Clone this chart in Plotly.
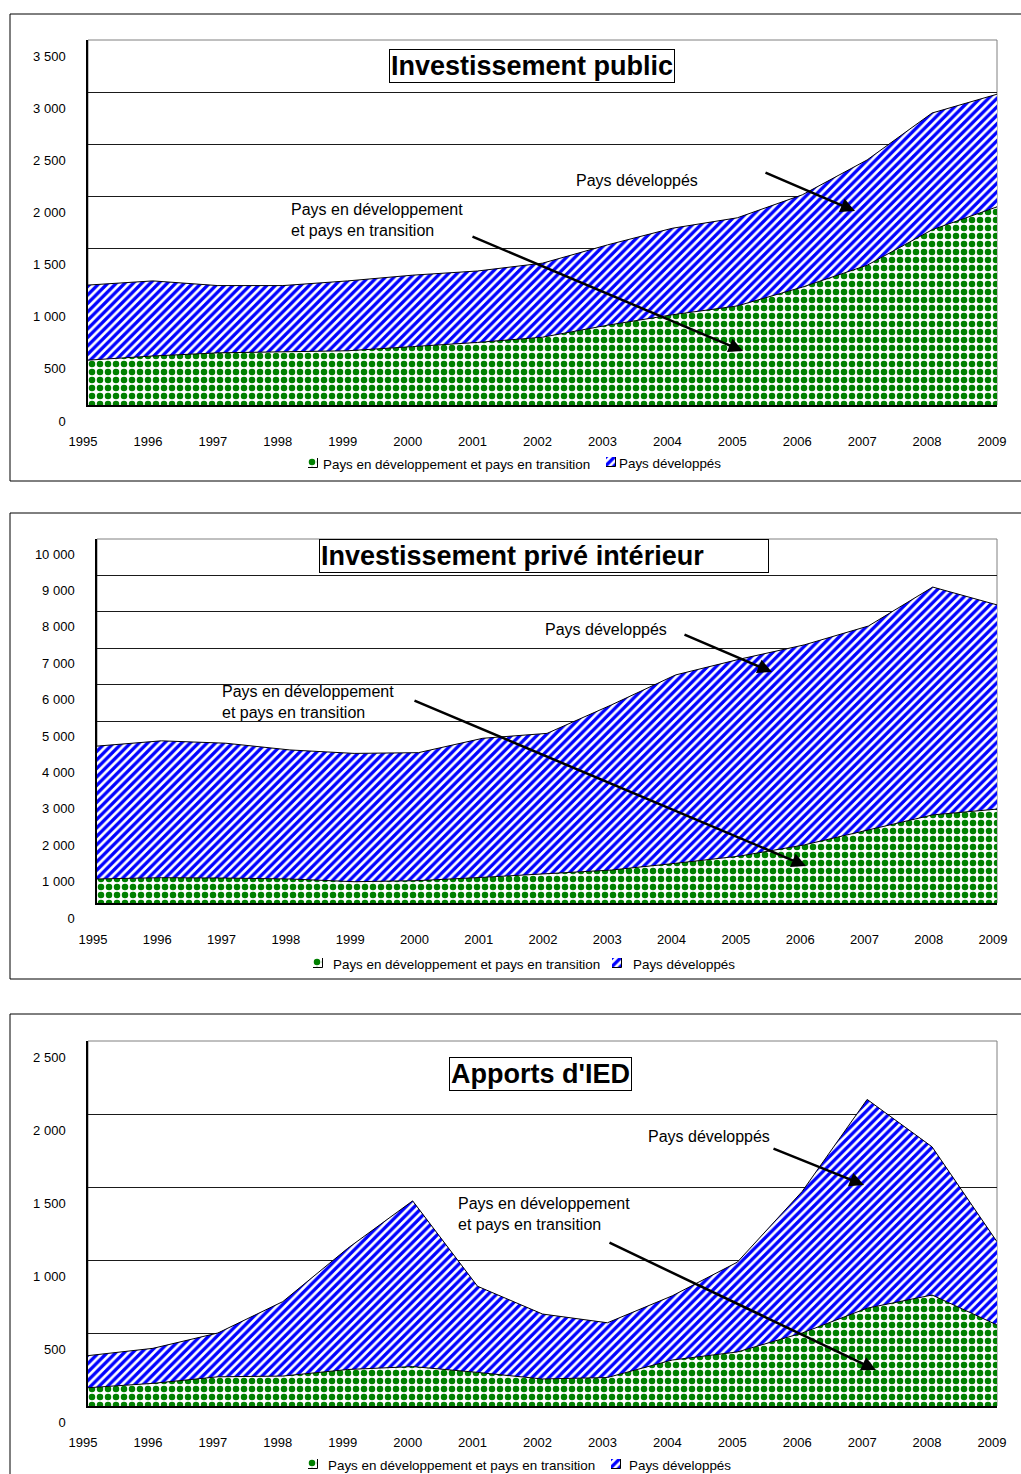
import plotly.graph_objects as go

W, H = 1021, 1474

years = list(range(1995, 2010))

# Investissement public (milliards de dollars)
public_developing = [430, 470, 500, 510, 520, 560, 600, 650, 765, 865, 950, 1130, 1340, 1680, 1900]
public_developed = [720, 720, 645, 635, 670, 685, 685, 710, 770, 830, 845, 885, 1010, 1120, 1080]

# Investissement privé intérieur
private_developing = [660, 695, 685, 660, 585, 615, 705, 815, 905, 1090, 1290, 1595, 2005, 2420, 2580]
private_developed = [3650, 3760, 3705, 3545, 3525, 3515, 3820, 3845, 4535, 5175, 5410, 5495, 5605, 6260, 5610]

# Apports d'IED
fdi_developing = [125, 155, 200, 205, 250, 270, 230, 185, 195, 315, 370, 500, 670, 760, 555]
fdi_developed = [220, 240, 300, 510, 830, 1135, 590, 445, 375, 440, 615, 970, 1430, 1015, 570]

public_ticks = [0, 500, 1000, 1500, 2000, 2500, 3000, 3500]
public_ticktext = ["0", "500", "1 000", "1 500", "2 000", "2 500", "3 000", "3 500"]
private_ticks = [0, 1000, 2000, 3000, 4000, 5000, 6000, 7000, 8000, 9000, 10000]
private_ticktext = ["0", "1 000", "2 000", "3 000", "4 000", "5 000", "6 000", "7 000",
                    "8 000", "9 000", "10 000"]
fdi_ticks = [0, 500, 1000, 1500, 2000, 2500]
fdi_ticktext = ["0", "500", "1 000", "1 500", "2 000", "2 500"]

titles = ["Investissement public", "Investissement privé intérieur", "Apports d'IED"]
name_developing = "Pays en développement et pays en transition"
name_developed = "Pays développés"
label_developing = "Pays en développement<br>et pays en transition"
label_developed = "Pays développés"

FONT = "Arial, Liberation Sans, sans-serif"
GREEN = "#008000"
BLUE = "#0000ff"


def px(x):
    return x / W


def py(y):
    return 1 - y / H


# green dots on white (checker-like texture) and blue diagonal hatching
green_pattern = dict(shape=".", fgcolor=GREEN, bgcolor="white", size=8, solidity=0.52,
                     fillmode="replace")
blue_pattern = dict(shape="/", fgcolor=BLUE, bgcolor="white", size=6, solidity=0.55,
                    fillmode="replace")

panels = [
    dict(dev=public_developing, ind=public_developed, ticks=public_ticks,
         ticktext=public_ticktext, ymax=3500, box=(88, 40, 997, 405), frame=(10, 14, 1025, 481),
         xshift=-5, yshift=16,
         title=(532, 66, None), dlabel=(637, 181), darrow=((764, 172), (855, 211)),
         glabel=(289, 220), garrow=((471, 236), (743, 351)),
         legend=[((308, 463), 321), ((606, 462), 617)]),
    dict(dev=private_developing, ind=private_developed, ticks=private_ticks,
         ticktext=private_ticktext, ymax=10000, box=(97, 539, 997, 903), frame=(10, 513, 1025, 979),
         xshift=-4, yshift=15,
         title=(544, 556, 446), dlabel=(606, 630), darrow=((683, 634), (772, 672)),
         glabel=(220, 702), garrow=((413, 700), (806, 866)),
         legend=[((313, 963), 331), ((612, 963), 631)]),
    dict(dev=fdi_developing, ind=fdi_developed, ticks=fdi_ticks,
         ticktext=fdi_ticktext, ymax=2500, box=(88, 1041, 997, 1406), frame=(10, 1014, 1025, 1490),
         xshift=-5, yshift=16,
         title=(540, 1074, None), dlabel=(709, 1136), darrow=((772, 1148), (864, 1185)),
         glabel=(456, 1214), garrow=((608, 1242), (876, 1370)),
         legend=[((308, 1464), 326), ((611, 1464), 627)]),
]

fig = go.Figure()
shapes = []
annotations = []
layout_axes = {}
SW = 10  # legend swatch size in px
swatch_axis = 4

for i, p in enumerate(panels):
    n = i + 1
    xa = "x" if n == 1 else f"x{n}"
    ya = "y" if n == 1 else f"y{n}"
    stack = f"stack{n}"
    x0, y0, x1, y1 = p["box"]

    fig.add_trace(go.Scatter(
        x=years, y=p["dev"], xaxis=xa, yaxis=ya, stackgroup=stack, mode="lines",
        line=dict(color="black", width=1), fillpattern=green_pattern, fillcolor="white",
        name=name_developing, hoverinfo="skip"))
    fig.add_trace(go.Scatter(
        x=years, y=p["ind"], xaxis=xa, yaxis=ya, stackgroup=stack, mode="lines",
        line=dict(color="black", width=1), fillpattern=blue_pattern, fillcolor="white",
        name=name_developed, hoverinfo="skip"))

    xkey = "xaxis" if n == 1 else f"xaxis{n}"
    ykey = "yaxis" if n == 1 else f"yaxis{n}"
    layout_axes[xkey] = dict(
        domain=[px(x0), px(x1)], anchor=ya, range=[1995, 2009], tickmode="array",
        tickvals=years, ticktext=[str(y) for y in years], showgrid=False, zeroline=False,
        showline=True, linecolor="black", linewidth=1.5, ticks="", automargin=False,
        ticklabelshift=p["xshift"], ticklabelstandoff=24,
        tickfont=dict(family=FONT, size=13, color="black"), fixedrange=True)
    layout_axes[ykey] = dict(
        domain=[py(y1), py(y0)], anchor=xa, range=[0, p["ymax"]], tickmode="array",
        tickvals=p["ticks"], ticktext=p["ticktext"], showgrid=True, gridcolor="#1a1a1a",
        gridwidth=1, zeroline=False, showline=True, linecolor="black", linewidth=1.5,
        ticks="", automargin=False, ticklabelshift=p["yshift"], ticklabelstandoff=18,
        tickfont=dict(family=FONT, size=13, color="black"), fixedrange=True)

    # plot-area border and panel frame
    shapes.append(dict(type="rect", xref="paper", yref="paper", x0=px(x0), x1=px(x1),
                       y0=py(y1), y1=py(y0), line=dict(color="#808080", width=1), layer="below"))
    fx0, fy0, fx1, fy1 = p["frame"]
    shapes.append(dict(type="rect", xref="paper", yref="paper", x0=px(fx0), x1=px(fx1),
                       y0=py(fy1), y1=py(fy0), line=dict(color="black", width=1), layer="below"))

    # boxed title
    tx, ty, tw = p["title"]
    title_ann = dict(text=f"<b>{titles[i]}</b>", xref="paper", yref="paper", x=px(tx), y=py(ty),
                     xanchor="center", yanchor="middle", showarrow=False,
                     font=dict(family=FONT, size=27, color="black"), bgcolor="white",
                     bordercolor="black", borderwidth=1, borderpad=1)
    if tw:
        title_ann["width"] = tw
        title_ann["align"] = "left"
    annotations.append(title_ann)

    # series labels with arrows
    annotations.append(dict(text=label_developed, xref="paper", yref="paper",
                            x=px(p["dlabel"][0]), y=py(p["dlabel"][1]), xanchor="center",
                            yanchor="middle", showarrow=False,
                            font=dict(family=FONT, size=16, color="black")))
    annotations.append(dict(text=label_developing, xref="paper", yref="paper",
                            x=px(p["glabel"][0]), y=py(p["glabel"][1]), xanchor="left",
                            yanchor="middle", align="left", showarrow=False,
                            font=dict(family=FONT, size=16, color="black")))
    for (tail, head) in (p["darrow"], p["garrow"]):
        annotations.append(dict(text="", xref="paper", yref="paper", x=px(head[0]), y=py(head[1]),
                                ax=tail[0] - head[0], ay=tail[1] - head[1], axref="pixel",
                                ayref="pixel", showarrow=True, arrowhead=2, arrowsize=1.15,
                                arrowwidth=2.5, arrowcolor="black", standoff=0))

    # legend: patterned swatch in a tiny axis + text
    for ((sx, sy), text_x), name, pattern in zip(
            p["legend"], [name_developing, name_developed], [green_pattern, blue_pattern]):
        ax_id = swatch_axis
        swatch_axis += 1
        fig.add_trace(go.Bar(
            x=[0.5], y=[1], width=[1], xaxis=f"x{ax_id}", yaxis=f"y{ax_id}", name=name,
            marker=dict(color="white", pattern=pattern, line=dict(color="black", width=1)),
            hoverinfo="skip"))
        layout_axes[f"xaxis{ax_id}"] = dict(
            domain=[px(sx), px(sx + SW)], anchor=f"y{ax_id}", range=[0, 1], visible=False,
            fixedrange=True)
        layout_axes[f"yaxis{ax_id}"] = dict(
            domain=[py(sy + SW / 2), py(sy - SW / 2)], anchor=f"x{ax_id}", range=[0, 1],
            visible=False, fixedrange=True)
        annotations.append(dict(text=name, xref="paper", yref="paper", x=px(text_x),
                                y=py(sy + 1), xanchor="left", yanchor="middle", showarrow=False,
                                font=dict(family=FONT, size=13.4, color="black")))

fig.update_layout(
    template="none", width=W, height=H, autosize=False,
    margin=dict(l=0, r=0, t=0, b=0, pad=0), showlegend=False,
    paper_bgcolor="white", plot_bgcolor="white", barmode="overlay", bargap=0,
    shapes=shapes, annotations=annotations, hovermode=False,
    font=dict(family=FONT, color="black"), **layout_axes)

fig.write_html("out.html", config={"displayModeBar": False})
